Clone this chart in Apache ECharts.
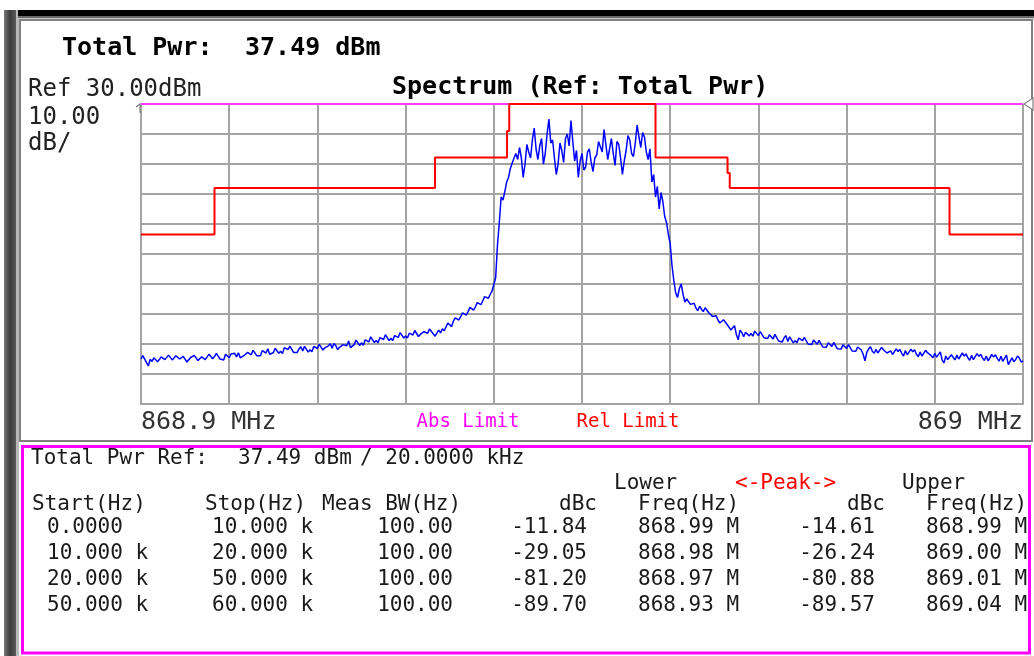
<!DOCTYPE html>
<html>
<head>
<meta charset="utf-8">
<title>Spectrum (Ref: Total Pwr)</title>
<script src="https://cdn.jsdelivr.net/npm/echarts@6/dist/echarts.min.js"></script>
<style>
  html, body { margin: 0; padding: 0; background: #ffffff; }
  #chart { width: 1034px; height: 656px; }
</style>
</head>
<body>
<div id="chart"></div>
<script>
// Sweep: offset from centre frequency in kHz, one trace point every 0.25 kHz
const sweepStartKHz = -60;
const sweepStepKHz = 0.25;

// Measured trace (dBm), 481 points; each row covers 1 kHz
const traceDbm = [
  -55.0, -53.9, -54.4, -56.2,   // -60 kHz
  -57.3, -55.1, -55.8, -54.6,
  -54.1, -55.9, -55.2, -54.3,
  -53.8, -55.2, -54.6, -53.7,
  -53.6, -55.3, -54.8, -53.9,
  -54.2, -55.0, -55.4, -54.1,   // -55
  -54.6, -56.0, -55.6, -54.5,
  -54.9, -53.8, -54.2, -55.5,
  -55.1, -54.3, -54.0, -55.2,
  -54.6, -53.4, -53.5, -54.9,
  -54.2, -53.1, -53.6, -55.0,   // -50
  -54.5, -55.3, -53.4, -54.0,
  -54.6, -53.3, -53.8, -53.1,
  -54.3, -52.9, -54.6, -54.4,
  -53.9, -54.5, -52.8, -53.4,
  -53.6, -52.1, -52.6, -53.9,   // -45
  -53.3, -53.9, -52.2, -52.7,
  -53.0, -51.6, -53.4, -53.5,
  -52.9, -51.4, -51.8, -53.1,
  -52.4, -53.2, -51.2, -51.6,
  -51.9, -50.7, -51.3, -52.8,   // -40
  -52.2, -52.8, -51.6, -50.9,
  -52.3, -50.8, -51.4, -52.7,
  -51.9, -52.6, -50.8, -51.2,
  -51.5, -50.1, -50.7, -52.0,
  -51.3, -51.9, -50.6, -49.9,   // -35
  -51.4, -49.8, -50.5, -51.9,
  -51.1, -51.7, -50.2, -49.6,
  -50.6, -49.0, -51.2, -51.0,
  -50.2, -48.7, -49.2, -50.5,
  -49.6, -50.4, -48.6, -48.0,   // -30
  -49.3, -47.6, -48.2, -49.5,
  -48.8, -49.6, -47.9, -47.3,
  -48.5, -46.9, -47.5, -48.9,
  -48.1, -48.8, -47.2, -46.6,
  -47.8, -46.2, -46.8, -48.0,   // -25
  -47.3, -48.0, -46.4, -45.8,
  -47.0, -45.5, -46.1, -47.5,
  -46.8, -47.4, -45.9, -45.3,
  -46.4, -45.0, -45.6, -46.6,
  -47.4, -48.0, -45.4, -46.3,   // -20
  -44.9, -45.6, -44.3, -43.0,
  -43.5, -44.2, -42.4, -41.3,
  -41.6, -42.0, -40.9, -39.6,
  -40.0, -40.4, -39.2, -37.8,
  -38.2, -38.7, -37.6, -36.2,   // -15
  -36.5, -36.9, -35.6, -34.2,
  -34.4, -34.8, -33.5, -32.4,
  -32.1, -28.0, -17.0, -9.5,
  -1.0, -2.0, 0.8, 4.0,
  5.5, 8.5, 9.0, 12.0,          // -10
  13.5, 11.5, 15.5, 12.0,
  5.5, 10.0, 16.5, 14.0,
  12.0, 18.0, 22.0, 15.0,
  11.5, 16.0, 18.5, 10.0,
  13.5, 20.0, 25.0, 17.0,       // -5
  18.0, 12.0, 6.5, 10.0,
  17.0, 14.5, 10.5, 18.5,
  20.0, 16.0, 24.5, 17.5,
  11.0, 14.5, 5.5, 11.0,
  13.5, 8.0, 9.0, 14.0,         // 0
  15.0, 10.5, 7.5, 12.0,
  13.0, 17.5, 18.0, 14.0,
  21.5, 16.5, 11.5, 15.0,
  18.5, 13.5, 9.5, 17.5,
  16.5, 12.0, 6.5, 11.0,        // +5
  14.5, 19.5, 18.0, 13.5,
  12.5, 17.0, 23.0, 19.0,
  15.5, 20.5, 19.0, 14.0,
  11.5, 15.0, 4.0, 6.5,
  -1.0, 2.5, -5.0, 0.5,         // +10
  -2.5, -7.5, -9.5, -13.5,
  -16.5, -24.0, -29.0, -33.0,
  -34.5, -31.5, -30.0, -33.5,
  -36.0, -35.0, -35.2, -36.8,
  -37.2, -36.4, -38.0, -38.9,   // +15
  -37.4, -38.4, -39.2, -37.9,
  -38.3, -39.6, -40.0, -40.8,
  -41.2, -40.6, -42.0, -43.0,
  -42.8, -41.9, -42.3, -43.5,
  -43.8, -45.3, -44.6, -43.9,   // +20
  -46.8, -48.6, -45.4, -46.2,
  -47.6, -46.1, -45.8, -47.3,
  -46.5, -47.4, -45.7, -45.2,
  -47.2, -45.9, -46.4, -47.9,
  -47.6, -48.2, -46.9, -46.3,   // +25
  -48.3, -46.8, -47.4, -49.0,
  -48.6, -49.3, -47.9, -47.2,
  -49.2, -47.6, -48.1, -49.6,
  -48.9, -49.6, -48.0, -47.5,
  -48.9, -47.8, -48.3, -50.0,   // +30
  -49.5, -50.2, -48.7, -48.2,
  -50.1, -48.8, -49.4, -51.0,
  -50.5, -51.1, -49.6, -49.1,
  -50.8, -49.5, -50.0, -51.6,
  -51.0, -51.7, -50.3, -49.8,   // +35
  -51.5, -50.2, -50.7, -52.3,
  -51.8, -52.4, -51.0, -50.4,
  -52.0, -53.4, -55.6, -52.8,
  -51.6, -50.9, -52.4, -53.1,
  -51.8, -53.0, -52.7, -51.1,   // +40
  -51.9, -51.4, -53.0, -53.6,
  -52.3, -53.5, -53.2, -51.6,
  -52.5, -51.8, -53.1, -54.0,
  -52.2, -53.6, -53.3, -51.7,
  -52.6, -51.9, -53.4, -54.2,   // +45
  -52.7, -54.0, -53.5, -52.1,
  -52.9, -52.4, -53.9, -54.6,
  -53.1, -54.4, -53.8, -52.6,
  -55.4, -56.3, -54.0, -55.2,
  -55.0, -53.6, -54.2, -55.3,   // +50
  -53.7, -55.0, -54.8, -53.0,
  -54.0, -53.3, -54.6, -55.4,
  -53.8, -55.2, -54.9, -53.2,
  -54.1, -53.4, -54.7, -55.5,
  -54.0, -55.6, -55.1, -53.5,   // +55
  -54.3, -53.6, -54.8, -55.7,
  -54.1, -55.8, -55.3, -53.7,
  -56.9, -57.4, -54.6, -55.9,
  -55.2, -54.0, -54.7, -56.0,
  -55.6                         // +60
];

// Relative limit mask (corner points, kHz offset / dBm)
const relLimitKHz = [-60, -50, -50, -20, -20, -10.2, -10.2, -9.9, -9.9, 10, 10, 19.8, 19.8, 20.1, 20.1, 50, 50, 60];
const relLimitDbm = [-13.5, -13.5, 2.0, 2.0, 12.2, 12.2, 21.0, 21.0, 30, 30, 12.2, 12.2, 7.0, 7.0, 2.0, 2.0, -13.5, -13.5];

// Absolute limit (dBm)
const absLimitKHz = [-60, 60];
const absLimitDbm = [30, 30];

// Display settings
const refLevelDbm = 30.00;
const dbPerDiv = 10.00;
const yDivisions = 10;
const halfSpanKHz = 60;
const xDivisions = 10;
const freqEdgeLabels = ['868.9 MHz', '869 MHz'];
const legendNames = ['Abs Limit', 'Rel Limit'];

// Summary table
const totalPwrDbm = 37.49;
const refBandwidth = '20.0000 kHz';
const rangeStart = ['0.0000', '10.000 k', '20.000 k', '50.000 k'];
const rangeStop = ['10.000 k', '20.000 k', '50.000 k', '60.000 k'];
const measBw = ['100.00', '100.00', '100.00', '100.00'];
const lowerDbc = [-11.84, -29.05, -81.20, -89.70];
const lowerPeakFreq = ['868.99 M', '868.98 M', '868.97 M', '868.93 M'];
const upperDbc = [-14.61, -26.24, -80.88, -89.57];
const upperPeakFreq = ['868.99 M', '869.00 M', '869.01 M', '869.04 M'];

// ---- layout ----
const MONO = '"DejaVu Sans Mono", "Liberation Mono", monospace';
const gridBox = { left: 141, top: 104, width: 882, height: 300 };
const gridColor = '#a4a4a4';
const ink = '#1a1a1a';

const traceData = traceDbm.map((v, i) => [sweepStartKHz + i * sweepStepKHz, v]);
const relData = relLimitKHz.map((f, i) => [f, relLimitDbm[i]]);
const absData = absLimitKHz.map((f, i) => [f, absLimitDbm[i]]);

function txt(x, y, text, opts) {
  opts = opts || {};
  return {
    type: 'text', x: x, y: y, z: 10, silent: true,
    style: {
      text: text,
      fontFamily: MONO,
      fontSize: opts.size || 21,
      fontWeight: opts.bold ? 'bold' : 'normal',
      fill: opts.color || ink,
      align: opts.align || 'left',
      verticalAlign: 'middle'
    }
  };
}

const graphics = [];

// instrument frame
graphics.push({ type: 'rect', z: 1, shape: { x: 4, y: 10, width: 12, height: 646 },
  style: { fill: new echarts.graphic.LinearGradient(0, 0, 1, 0, [
    { offset: 0, color: '#7a7a7a' }, { offset: 0.5, color: '#3c3c3c' }, { offset: 1, color: '#5a5a5a' }]) } });
graphics.push({ type: 'rect', z: 1, shape: { x: 16, y: 10, width: 3, height: 646 }, style: { fill: '#b8b8b8' } });
graphics.push({ type: 'rect', z: 1, shape: { x: 18, y: 10, width: 1016, height: 6 }, style: { fill: '#000000' } });
graphics.push({ type: 'rect', z: 1, shape: { x: 18, y: 16, width: 1016, height: 2 }, style: { fill: '#6a6a6a' } });
graphics.push({ type: 'rect', z: 1, shape: { x: 18, y: 18, width: 1016, height: 1.5 }, style: { fill: '#c8c8c8' } });
graphics.push({ type: 'rect', z: 1, shape: { x: 20, y: 20, width: 1012, height: 421 },
  style: { fill: null, stroke: '#808080', lineWidth: 2 } });
graphics.push({ type: 'rect', z: 2, shape: { x: 22.5, y: 446.5, width: 1007, height: 206.5 },
  style: { fill: null, stroke: '#ff00ff', lineWidth: 3 } });

// reference level markers at the top of the graticule
const gRight = gridBox.left + gridBox.width;
graphics.push({ type: 'polygon', z: 6, shape: { points: [[gRight + 1, gridBox.top], [gRight + 10, gridBox.top - 6], [gRight + 10, gridBox.top + 6]] },
  style: { fill: '#ffffff', stroke: '#808080', lineWidth: 1.2 } });
graphics.push({ type: 'polyline', z: 6, shape: { points: [[gridBox.left - 5, gridBox.top + 3], [gridBox.left - 1, gridBox.top], [gridBox.left - 1, gridBox.top + 9]] },
  style: { stroke: '#808080', lineWidth: 1.2 } });

// header texts
graphics.push(txt(62, 48, 'Total Pwr:', { size: 25, bold: true, color: '#000' }));
graphics.push(txt(245, 48, totalPwrDbm.toFixed(2) + ' dBm', { size: 25, bold: true, color: '#000' }));
graphics.push(txt(28, 90, 'Ref ' + refLevelDbm.toFixed(2) + 'dBm', { size: 24, color: '#222' }));
graphics.push(txt(392, 87, 'Spectrum (Ref: Total Pwr)', { size: 25, bold: true, color: '#000' }));
graphics.push(txt(28, 118, dbPerDiv.toFixed(2), { size: 24, color: '#222' }));
graphics.push(txt(28, 144, 'dB/', { size: 24, color: '#222' }));
graphics.push(txt(468, 422, legendNames[0], { size: 19, color: '#ff00ff', align: 'center' }));
graphics.push(txt(628, 422, legendNames[1], { size: 19, color: '#ff0000', align: 'center' }));

// summary table
graphics.push(txt(31, 459, 'Total Pwr Ref:'));
graphics.push(txt(238, 459, totalPwrDbm.toFixed(2) + ' dBm'));
graphics.push(txt(360, 459, '/ ' + refBandwidth));
graphics.push(txt(614, 484, 'Lower'));
graphics.push(txt(735, 484, '<-Peak->', { color: '#ff0000' }));
graphics.push(txt(902, 484, 'Upper'));
graphics.push(txt(32, 505, 'Start(Hz)'));
graphics.push(txt(205, 505, 'Stop(Hz)'));
graphics.push(txt(322, 505, 'Meas BW(Hz)'));
graphics.push(txt(597, 505, 'dBc', { align: 'right' }));
graphics.push(txt(638, 505, 'Freq(Hz)'));
graphics.push(txt(885, 505, 'dBc', { align: 'right' }));
graphics.push(txt(926, 505, 'Freq(Hz)'));
const rowY = [528, 554, 580, 606];
rangeStart.forEach((s, r) => {
  const y = rowY[r];
  graphics.push(txt(47, y, s));
  graphics.push(txt(212, y, rangeStop[r]));
  graphics.push(txt(453, y, measBw[r], { align: 'right' }));
  graphics.push(txt(587, y, lowerDbc[r].toFixed(2), { align: 'right' }));
  graphics.push(txt(638, y, lowerPeakFreq[r]));
  graphics.push(txt(875, y, upperDbc[r].toFixed(2), { align: 'right' }));
  graphics.push(txt(926, y, upperPeakFreq[r]));
});

const chart = echarts.init(document.getElementById('chart'), null, { renderer: 'canvas' });
chart.setOption({
  animation: false,
  backgroundColor: '#ffffff',
  grid: Object.assign({ show: false }, gridBox),
  xAxis: {
    type: 'value',
    min: -halfSpanKHz,
    max: halfSpanKHz,
    interval: (2 * halfSpanKHz) / xDivisions,
    axisLine: { show: true, onZero: false, lineStyle: { color: gridColor, width: 2 } },
    axisTick: { show: false },
    splitLine: { show: true, lineStyle: { color: gridColor, width: 2 } },
    axisLabel: {
      show: true,
      showMinLabel: true,
      showMaxLabel: true,
      alignMinLabel: 'left',
      alignMaxLabel: 'right',
      margin: 6,
      fontFamily: MONO,
      fontSize: 25,
      color: '#333333',
      formatter: function (v) {
        if (v === -halfSpanKHz) return freqEdgeLabels[0];
        if (v === halfSpanKHz) return freqEdgeLabels[1];
        return '';
      }
    }
  },
  yAxis: {
    type: 'value',
    min: refLevelDbm - dbPerDiv * yDivisions,
    max: refLevelDbm,
    interval: dbPerDiv,
    axisLine: { show: true, onZero: false, lineStyle: { color: gridColor, width: 2 } },
    axisTick: { show: false },
    axisLabel: { show: false },
    splitLine: { show: true, lineStyle: { color: gridColor, width: 2 } }
  },
  series: [
    {
      name: legendNames[0], type: 'line', data: absData, clip: false, z: 3,
      symbol: 'none', lineStyle: { color: '#ff3cff', width: 2 }
    },
    {
      name: legendNames[1], type: 'line', data: relData, clip: false, z: 4,
      symbol: 'none', lineStyle: { color: '#ff0000', width: 2 }
    },
    {
      name: 'Trace', type: 'line', data: traceData, z: 5,
      symbol: 'none', lineStyle: { color: '#0000ff', width: 1.5 }
    }
  ],
  graphic: graphics
});
</script>
</body>
</html>
